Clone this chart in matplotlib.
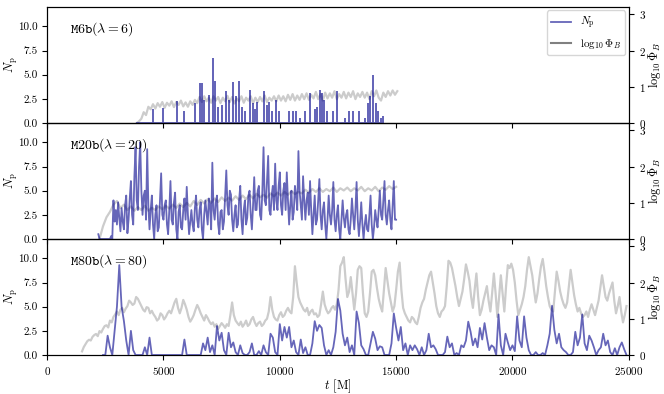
import numpy as np
import matplotlib
matplotlib.use("Agg")
import matplotlib.pyplot as plt
from matplotlib.lines import Line2D

plt.rcParams.update({
    "font.family": "serif",
    "font.serif": ["cmr10"],
    "mathtext.fontset": "cm",
    "axes.formatter.use_mathtext": True,
    "font.size": 8,
})

BLUE = "#00008b"
GREY = "gray"

# ---- M6b (lambda = 6) -------------------------------------------------------
m6_phi_t0, m6_phi_dt = 3850, 100
m6_phi = [
    0.00, 0.05, 0.12, 0.30, 0.22, 0.45, 0.38, 0.52, 0.40, 0.55,
    0.45, 0.58, 0.42, 0.56, 0.48, 0.60, 0.44, 0.58, 0.50, 0.62,
    0.46, 0.57, 0.45, 0.60, 0.50, 0.64, 0.55, 0.72, 0.58, 0.74,
    0.60, 0.70, 0.56, 0.74, 0.62, 0.72, 0.55, 0.70, 0.60, 0.75,
    0.58, 0.72, 0.54, 0.68, 0.60, 0.74, 0.56, 0.70, 0.62, 0.74,
    0.55, 0.70, 0.58, 0.72, 0.60, 0.76, 0.58, 0.70, 0.62, 0.74,
    0.60, 0.76, 0.62, 0.74, 0.60, 0.78, 0.64, 0.80, 0.62, 0.76,
    0.64, 0.80, 0.66, 0.82, 0.64, 0.78, 0.68, 0.86, 0.66, 0.80,
    0.62, 0.84, 0.68, 0.82, 0.70, 0.88, 0.66, 0.80, 0.70, 0.86,
    0.68, 0.84, 0.72, 0.88, 0.66, 0.82, 0.72, 0.86, 0.70, 0.84,
    0.66, 0.88, 0.74, 0.90, 0.70, 0.62, 0.84, 0.72, 0.88, 0.76,
    0.90, 0.78, 0.88,
]
m6_spike_t = [3850, 4545, 5000, 5580, 5890, 6365, 6550, 6650, 6750, 6965,
              7150, 7225, 7325, 7510, 7700, 7800, 7985, 8125, 8245, 8370,
              8515, 8730, 8845, 8945, 9015, 9300, 9445, 9515, 9660, 9835,
              9950, 10380, 10550, 10695, 10880, 11095, 11310, 11495, 11595, 11710,
              11810, 11910, 12025, 12285, 12455, 12815, 12985, 13145, 13385, 13675,
              13775, 13890, 14005, 14145, 14200, 14350, 14450]
m6_spike_n = [0.0, 1.34, 1.45, 2.14, 1.1, 1.97, 4.03, 4.03, 2.3, 2.83,
              6.62, 4.2, 1.6, 1.8, 3.17, 2.3, 4.1, 2.65, 4.2, 1.6,
              1.1, 3.34, 2.0, 1.3, 2.1, 3.17, 1.8, 2.1, 1.1, 2.3,
              1.1, 1.1, 1.1, 1.1, 0.4, 1.1, 3.0, 1.3, 1.6, 3.34,
              3.0, 2.3, 1.1, 1.1, 3.17, 0.4, 1.1, 1.1, 1.1, 0.4,
              2.0, 2.65, 4.9, 2.0, 1.1, 0.4, 0.6]

# ---- M20b (lambda = 20) -----------------------------------------------------
m20_np_t0, m20_np_dt = 2200, 50
m20_np = [
    0.5, 0.0, 0.0, 0.0, 0.0, 0.0, 0.0, 0.0, 0.0, 0.0,
    0.0, 0.3, 0.0, 4.0, 1.8, 3.0, 1.5, 3.8, 2.2, 0.8,
    3.2, 1.8, 1.0, 3.5, 4.5, 0.6, 2.0, 4.2, 6.0, 2.5,
    1.5, 6.5, 9.5, 4.0, 3.0, 7.5, 10.0, 5.0, 2.5, 4.5,
    5.0, 2.0, 9.3, 3.5, 1.0, 3.0, 4.5, 1.5, 0.0, 2.5,
    3.5, 0.8, 1.2, 4.0, 6.8, 2.5, 2.0, 3.5, 4.0, 1.5,
    0.5, 3.0, 6.0, 2.0, 1.5, 3.8, 4.8, 1.0, 0.0, 2.8,
    3.5, 1.2, 1.0, 3.0, 4.2, 2.0, 5.4, 2.5, 0.5, 1.8,
    3.0, 1.5, 0.8, 3.2, 4.5, 2.0, 1.2, 3.0, 3.8, 1.0,
    0.0, 2.5, 4.0, 2.8, 1.5, 4.2, 3.5, 1.0, 7.9, 3.0,
    2.0, 3.8, 4.5, 1.5, 0.5, 2.8, 3.0, 1.0, 1.8, 4.5,
    7.1, 3.5, 2.5, 5.0, 4.6, 2.0, 0.8, 2.5, 3.5, 1.2,
    1.5, 4.0, 5.5, 2.0, 0.5, 3.0, 4.0, 1.5, 2.2, 4.5,
    5.0, 2.5, 1.0, 3.5, 6.4, 3.0, 3.0, 5.0, 5.5, 2.5,
    2.0, 5.0, 9.5, 4.0, 3.5, 6.0, 8.6, 3.0, 2.5, 4.5,
    5.5, 3.0, 7.8, 4.0, 3.0, 5.5, 6.9, 3.5, 2.5, 5.0,
    5.8, 3.0, 6.9, 4.0, 1.5, 3.5, 5.0, 2.0, 2.8, 5.5,
    4.5, 3.0, 9.1, 5.0, 3.5, 2.0, 6.5, 4.0, 2.0, 4.0,
    4.8, 2.5, 6.0, 3.0, 0.5, 2.5, 4.5, 1.5, 2.0, 4.0,
    6.2, 2.5, 1.0, 3.0, 3.8, 1.5, 0.0, 2.0, 4.5, 2.5,
    1.5, 3.0, 5.9, 2.0, 0.8, 2.5, 3.5, 1.0, 0.0, 2.0,
    4.0, 2.2, 1.2, 2.5, 3.0, 1.0, 0.5, 2.0, 4.2, 2.5,
    1.0, 3.0, 5.9, 2.0, 0.3, 1.8, 3.8, 1.5, 0.0, 1.5,
    2.5, 1.0, 0.8, 2.5, 4.5, 1.5, 0.0, 1.2, 3.0, 2.0,
    1.2, 3.0, 5.0, 2.5, 2.0, 4.0, 6.0, 2.5, 1.5, 3.0,
    4.0, 2.0, 1.0, 3.5, 6.0, 2.0, 2.0,
]
m20_phi_t0, m20_phi_dt = 2250, 150
m20_phi = [
    0.00, 0.35, 0.60, 0.75, 0.95, 1.05, 0.85, 0.95, 0.80, 0.90,
    0.78, 0.88, 0.80, 0.92, 0.78, 0.86, 0.80, 0.90, 0.82, 0.92,
    0.84, 0.95, 0.86, 0.98, 0.88, 1.00, 0.90, 1.05, 0.94, 1.08,
    0.98, 1.10, 1.00, 1.12, 1.02, 1.15, 1.05, 1.14, 1.06, 1.18,
    1.08, 1.20, 1.10, 1.22, 1.12, 1.25, 1.15, 1.22, 1.14, 1.26,
    1.18, 1.28, 1.20, 1.30, 1.22, 1.32, 1.24, 1.30, 1.26, 1.36,
    1.28, 1.38, 1.30, 1.40, 1.30, 1.38, 1.32, 1.42, 1.30, 1.40,
    1.34, 1.42, 1.32, 1.40, 1.34, 1.44, 1.32, 1.40, 1.34, 1.44,
    1.32, 1.42, 1.36, 1.46, 1.38, 1.44,
]

# ---- M80b (lambda = 80) -----------------------------------------------------
m80_np_t0, m80_np_dt = 2400, 100
m80_np = [
    0.0, 0.0, 2.0, 0.8, 0.0, 2.5, 5.0, 9.3, 5.0, 3.5,
    1.5, 0.0, 2.5, 0.5, 0.0, 0.0, 0.0, 0.0, 0.8, 0.0,
    1.8, 0.0, 0.0, 0.0, 0.0, 0.0, 0.0, 0.0, 0.0, 0.0,
    0.0, 0.0, 0.0, 0.0, 0.0, 1.6, 0.0, 0.0, 0.0, 0.0,
    0.0, 0.0, 0.0, 1.2, 0.5, 1.8, 0.3, 1.0, 0.0, 3.0,
    1.5, 2.3, 0.5, 0.0, 2.3, 0.8, 1.3, 0.3, 0.0, 1.0,
    0.2, 0.0, 0.0, 0.3, 1.2, 0.0, 0.0, 0.4, 0.0, 1.0,
    0.3, 0.0, 2.2, 1.8, 0.3, 0.0, 3.2, 1.5, 2.9, 1.8,
    2.9, 0.8, 1.5, 0.3, 0.0, 1.6, 0.2, 0.8, 0.0, 0.0,
    1.2, 3.5, 2.5, 3.1, 2.8, 1.0, 0.0, 0.5, 0.0, 0.8,
    2.4, 5.8, 4.6, 2.2, 1.0, 1.8, 0.3, 1.0, 0.0, 4.5,
    3.3, 1.0, 0.6, 0.0, 0.0, 1.2, 2.4, 1.7, 0.5, 0.9,
    0.8, 0.0, 0.0, 0.0, 1.2, 4.3, 2.8, 1.5, 2.9, 0.5,
    1.2, 0.0, 1.0, 0.5, 1.0, 0.6, 0.0, 0.8, 0.0, 0.5,
    2.2, 0.8, 1.0, 0.6, 0.0, 0.0, 0.0, 0.3, 1.9, 0.8,
    1.2, 0.0, 0.2, 0.0, 1.0, 0.8, 1.5, 3.45, 2.4, 1.0,
    1.7, 0.8, 2.8, 1.6, 3.3, 1.8, 0.5, 1.0, 0.8, 0.0,
    4.2, 1.0, 0.0, 2.2, 1.3, 0.5, 1.0, 0.4, 4.0, 1.5,
    0.8, 4.0, 1.8, 0.5, 0.0, 0.0, 0.3, 0.0, 0.0, 0.2,
    0.0, 1.0, 2.2, 5.1, 2.6, 1.2, 2.2, 0.8, 0.5, 0.3,
    0.0, 0.0, 0.3, 2.4, 1.0, 1.8, 4.2, 1.2, 0.5, 2.0,
    1.5, 0.8, 0.0, 0.5, 0.8, 2.2, 1.0, 1.5, 0.3, 0.0,
    0.7, 0.0, 0.8, 1.3, 0.6, 0.0,
]
m80_phi_t0, m80_phi_dt = 1500, 75
m80_phi = [
    0.10, 0.22, 0.30, 0.38, 0.42, 0.40, 0.50, 0.55, 0.58, 0.52,
    0.66, 0.62, 0.72, 0.80, 0.82, 0.76, 0.95, 0.90, 1.05, 1.12,
    1.20, 1.10, 1.25, 1.30, 1.18, 1.28, 1.35, 1.50, 1.45, 1.38,
    1.42, 1.60, 1.55, 1.45, 1.35, 1.25, 1.20, 1.32, 1.30, 1.15,
    1.22, 1.12, 1.05, 0.95, 1.00, 1.15, 1.10, 0.98, 1.05, 1.15,
    1.22, 1.15, 1.30, 1.45, 1.55, 1.30, 1.15, 1.30, 1.52, 1.40,
    1.25, 1.05, 0.92, 1.00, 1.10, 1.25, 1.38, 1.28, 1.15, 1.05,
    0.95, 1.10, 1.02, 0.92, 0.85, 0.90, 0.78, 0.85, 0.72, 0.80,
    0.88, 0.82, 0.75, 0.85, 0.80, 1.10, 1.45, 1.10, 0.95, 0.88,
    0.82, 0.92, 0.78, 0.85, 0.95, 0.80, 0.85, 0.98, 1.05, 0.90,
    0.80, 0.88, 0.92, 0.80, 0.85, 0.95, 1.00, 1.20, 1.60, 1.25,
    1.05, 0.98, 0.95, 1.10, 1.18, 1.05, 1.10, 1.22, 1.30, 1.20,
    1.15, 1.60, 2.45, 2.00, 1.60, 1.45, 1.35, 1.25, 1.20, 1.30,
    1.10, 1.20, 1.25, 1.12, 1.15, 1.05, 1.10, 1.40, 1.75, 1.40,
    1.25, 1.15, 1.20, 1.30, 1.35, 1.25, 1.40, 1.80, 2.45, 2.55,
    2.70, 2.10, 1.60, 1.75, 2.15, 1.70, 1.25, 1.70, 2.35, 2.45,
    2.40, 1.70, 1.15, 1.05, 1.20, 1.70, 2.30, 2.35, 2.20, 1.85,
    1.55, 1.35, 1.20, 1.80, 2.40, 2.05, 1.70, 1.45, 1.20, 1.35,
    1.80, 2.30, 2.55, 1.80, 1.30, 1.15, 1.05, 0.95, 0.90, 1.05,
    1.00, 0.90, 0.85, 1.05, 1.30, 1.45, 1.55, 1.80, 2.00, 2.20,
    2.30, 2.00, 1.70, 1.35, 1.15, 1.05, 1.20, 1.25, 1.35, 1.90,
    2.60, 2.55, 2.40, 2.15, 1.90, 1.60, 1.35, 1.55, 1.75, 2.10,
    2.50, 2.30, 2.05, 1.60, 1.30, 1.80, 2.25, 1.60, 1.10, 1.25,
    1.50, 1.70, 1.90, 1.50, 1.20, 1.70, 2.25, 1.70, 1.05, 1.60,
    2.20, 1.70, 1.20, 1.90, 2.48, 2.40, 2.52, 2.35, 2.00, 1.50,
    1.10, 1.25, 1.40, 1.60, 1.90, 2.35, 2.70, 2.45, 2.20, 1.80,
    1.45, 1.70, 2.10, 2.45, 2.65, 2.30, 1.90, 1.60, 1.35, 1.25,
    1.20, 1.75, 2.30, 2.05, 1.75, 1.55, 1.40, 1.30, 1.45, 1.90,
    2.35, 2.00, 1.65, 1.40, 1.20, 1.30, 1.15, 1.05, 1.10, 1.20,
    1.05, 1.25, 1.40, 1.25, 1.10, 1.30, 1.50, 1.85, 2.20, 1.90,
    1.60, 1.50, 1.70, 1.85, 2.00, 1.50, 1.15, 1.35, 1.60, 1.20,
    0.90, 1.10, 1.35,
]

labels = [r"$\mathtt{M6b}(\lambda=6)$", r"$\mathtt{M20b}(\lambda=20)$",
          r"$\mathtt{M80b}(\lambda=80)$"]


def grid(t0, dt, vals):
    return t0 + dt * np.arange(len(vals))


# spike series of M6b drawn as vertical excursions from zero
n = len(m6_spike_t)
m6_np_t = np.repeat(m6_spike_t, 3)
m6_np = np.column_stack([np.zeros(n), m6_spike_n, np.zeros(n)]).ravel()

np_series = [(m6_np_t, m6_np),
             (grid(m20_np_t0, m20_np_dt, m20_np), np.array(m20_np)),
             (grid(m80_np_t0, m80_np_dt, m80_np), np.array(m80_np))]
phi_series = [(grid(m6_phi_t0, m6_phi_dt, m6_phi), np.array(m6_phi)),
              (grid(m20_phi_t0, m20_phi_dt, m20_phi), np.array(m20_phi)),
              (grid(m80_phi_t0, m80_phi_dt, m80_phi), np.array(m80_phi))]

fig, axes = plt.subplots(3, 1, figsize=(6.64, 3.94), dpi=100, sharex=True)
fig.subplots_adjust(left=0.071, right=0.947, top=0.982, bottom=0.099, hspace=0)

for ax, (tn, yn), (tp, yp), lab in zip(axes, np_series, phi_series, labels):
    tw = ax.twinx()
    tw.plot(tp, yp, color=GREY, alpha=0.4, lw=1.6)
    ax.plot(tn, yn, color=BLUE, alpha=0.6, lw=1.3)
    ax.set_zorder(tw.get_zorder() + 1)
    ax.patch.set_visible(False)
    ax.set_xlim(0, 25000)
    ax.set_ylim(0, 12)
    ax.set_yticks([0, 2.5, 5, 7.5, 10])
    ax.set_yticklabels(["0.0", "2.5", "5.0", "7.5", "10.0"])
    tw.set_ylim(0, 3.2)
    tw.set_yticks([0, 1, 2, 3])
    ax.set_ylabel(r"$N_{\rm p}$", fontsize=9)
    ax.yaxis.set_label_coords(-0.047, 0.5)
    tw.set_ylabel(r"$\log_{10}\Phi_B$", fontsize=9)
    tw.yaxis.set_label_coords(1.03, 0.5)
    ax.text(0.04, 0.885, lab, transform=ax.transAxes, fontsize=10, va="top")

axes[-1].set_xticks([0, 5000, 10000, 15000, 20000, 25000])
axes[-1].set_xlabel(r"$t$ [M]", fontsize=9)
axes[-1].xaxis.set_label_coords(0.5, -0.19)

handles = [Line2D([], [], color=BLUE, alpha=0.6, lw=1.3),
           Line2D([], [], color=GREY, lw=1.5)]
axes[0].legend(handles, [r"$N_{\rm p}$", r"$\log_{10}\Phi_B$"],
               loc="upper right", fontsize=8, handlelength=1.8,
               labelspacing=0.5, borderpad=0.4, borderaxespad=0.3)

fig.savefig("out.png", dpi=100)
